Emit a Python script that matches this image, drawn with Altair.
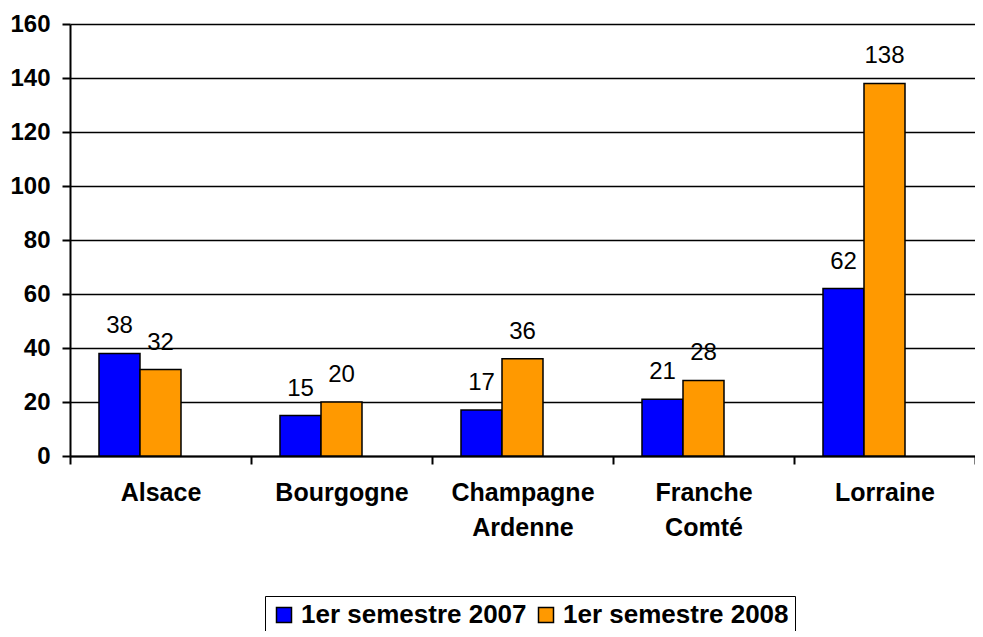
import altair as alt
import pandas as pd

categories = ["Alsace", "Bourgogne", "Champagne Ardenne", "Franche Comté", "Lorraine"]
series = ["1er semestre 2007", "1er semestre 2008"]
values_2007 = [38, 15, 17, 21, 62]
values_2008 = [32, 20, 36, 28, 138]
colors = ["#0000FF", "#FF9900"]
y_ticks = [0, 20, 40, 60, 80, 100, 120, 140, 160]

rows = []
for c, a, b in zip(categories, values_2007, values_2008):
    rows.append({"region": c, "serie": series[0], "valeur": a})
    rows.append({"region": c, "serie": series[1], "valeur": b})
df = pd.DataFrame(rows)

FONT = "Liberation Sans"

x = alt.X(
    "region:N", sort=categories, title=None,
    scale=alt.Scale(paddingInner=0, paddingOuter=0),
    axis=alt.Axis(
        labelAngle=0, labelFont=FONT, labelFontSize=25, labelFontWeight="bold",
        labelColor="black", labelExpr="split(datum.label, ' ')",
        labelLineHeight=35, labelPadding=16, labelBaseline="top",
        tickBand="extent", tickSize=8, tickColor="black", tickWidth=2,
        domainColor="black", domainWidth=2, grid=False,
    ),
)
# a blank third slot in the offset scale reproduces the left-shifted bar pair
xoff = alt.XOffset(
    "serie:N", sort=series,
    scale=alt.Scale(domain=series + [" "], paddingInner=0, paddingOuter=0.707, align=0.5),
)
y = alt.Y(
    "valeur:Q", title=None,
    scale=alt.Scale(domain=[0, 160], nice=False),
    axis=alt.Axis(
        values=y_ticks, labelFont=FONT, labelFontSize=24, labelFontWeight="bold",
        labelColor="black", labelPadding=12, tickSize=8, tickColor="black",
        tickWidth=2, domainColor="black", domainWidth=2,
        grid=True, gridColor="black", gridWidth=1.5, gridOpacity=1,
    ),
)
color = alt.Color(
    "serie:N",
    scale=alt.Scale(domain=series, range=colors),
    legend=alt.Legend(
        title=None, orient="none", legendX=195, legendY=572,
        direction="horizontal", strokeColor="black", padding=6,
        symbolType="square", symbolSize=225, symbolStrokeColor="black",
        symbolStrokeWidth=1.5, symbolOpacity=1,
        labelFont=FONT, labelFontSize=26, labelFontWeight="bold",
        labelColor="black", labelOffset=4, columnPadding=6, labelLimit=500,
    ),
)

bars = alt.Chart(df).mark_bar(stroke="black", strokeWidth=1.5).encode(
    x=x, xOffset=xoff, y=y, color=color
)
text = alt.Chart(df).mark_text(
    baseline="alphabetic", dy=-20, font=FONT, fontSize=24, color="black"
).encode(x=x, xOffset=xoff, y=y, text="valeur:Q")

chart = alt.layer(bars, text).properties(
    width=905, height=432,
    padding={"left": 62, "top": 16, "right": 0, "bottom": 175},
    autosize=alt.AutoSizeParams(type="none"),
).configure_view(stroke=None)

chart.save("out.html", embed_options={"renderer": "svg", "actions": False})
